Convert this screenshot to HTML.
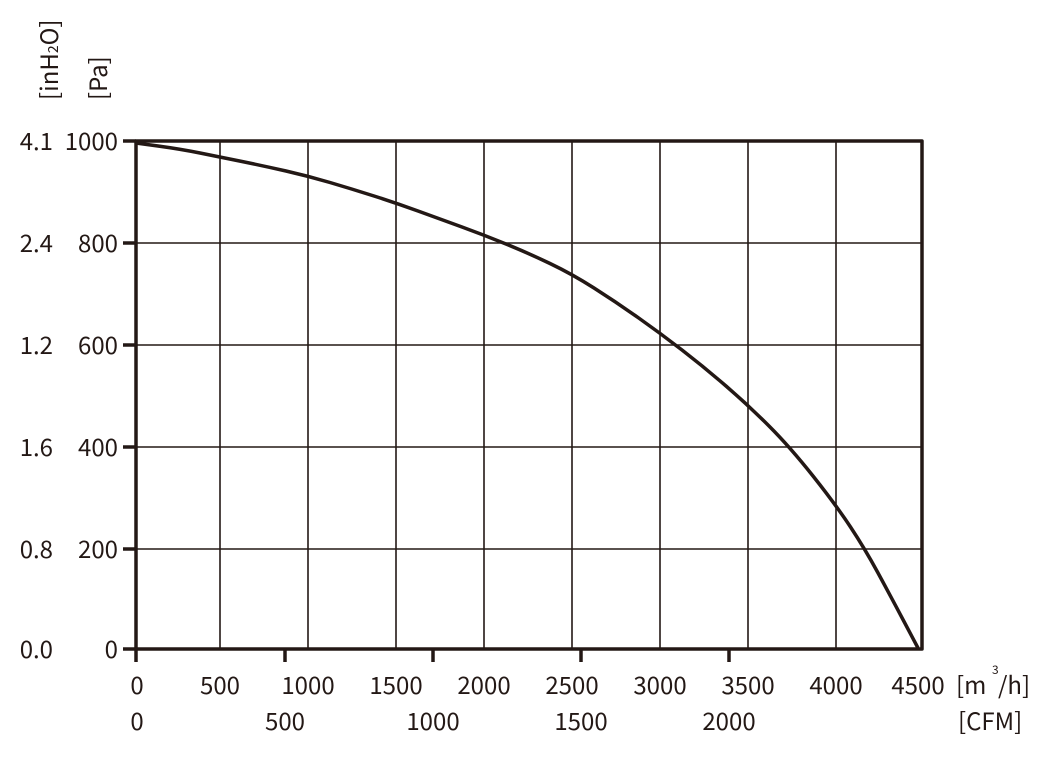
<!DOCTYPE html>
<html><head><meta charset="utf-8"><style>
html,body{margin:0;padding:0;background:#fff;}
svg{display:block;font-family:"Noto Sans CJK SC","Liberation Sans",sans-serif;}
text{fill:#231815;font-size:24px;}
</style></head><body>
<svg width="1050" height="758" viewBox="0 0 1050 758">
<g stroke="#231815" stroke-width="1.6">
<line x1="220" y1="141" x2="220" y2="649"/><line x1="308" y1="141" x2="308" y2="649"/>
<line x1="396" y1="141" x2="396" y2="649"/><line x1="484" y1="141" x2="484" y2="649"/>
<line x1="572" y1="141" x2="572" y2="649"/><line x1="660" y1="141" x2="660" y2="649"/>
<line x1="748" y1="141" x2="748" y2="649"/><line x1="836" y1="141" x2="836" y2="649"/>
<line x1="136" y1="243" x2="922" y2="243"/><line x1="136" y1="345" x2="922" y2="345"/>
<line x1="136" y1="447" x2="922" y2="447"/><line x1="136" y1="549" x2="922" y2="549"/>
</g>
<g stroke="#231815" stroke-width="3.5" fill="none" stroke-linejoin="round">
<rect x="136" y="141" width="786" height="508"/>
<line x1="123" y1="141" x2="136" y2="141"/><line x1="123" y1="243" x2="136" y2="243"/>
<line x1="123" y1="345" x2="136" y2="345"/><line x1="123" y1="447" x2="136" y2="447"/>
<line x1="123" y1="549" x2="136" y2="549"/><line x1="123" y1="649" x2="136" y2="649"/>
<line x1="136" y1="649" x2="136" y2="662"/><line x1="285" y1="649" x2="285" y2="662"/>
<line x1="433" y1="649" x2="433" y2="662"/><line x1="581" y1="649" x2="581" y2="662"/>
<line x1="729" y1="649" x2="729" y2="662"/>
<path d="M136,143 L158,146 Q180,149 200,153 Q220,157 242,161.5 Q264,166 286,171 Q308,176 330,182.5 Q352,189 374,196 Q396,203 418,211 Q440,219 462,227 Q484,235 506,244 Q528,253 550,263.5 Q572,274 594,288 Q616,302 638,317.5 Q660,333 682,350 Q704,367 726,386 Q748,405 769,426 Q790,447 813,476 Q836,505 850.5,527 Q865,549 877.5,572 Q890,595 904,621.5 L918,648"/>
</g>
<g text-anchor="end">
<text x="118" y="150">1000</text><text x="118" y="252">800</text><text x="118" y="354">600</text>
<text x="118" y="456">400</text><text x="118" y="558">200</text><text x="118" y="658">0</text>
<text x="53" y="150">4.1</text><text x="53" y="252">2.4</text><text x="53" y="354">1.2</text>
<text x="53" y="456">1.6</text><text x="53" y="558">0.8</text><text x="53" y="658">0.0</text>
</g>
<g text-anchor="middle">
<text x="137" y="694">0</text><text x="220" y="694">500</text><text x="308" y="694">1000</text>
<text x="396" y="694">1500</text><text x="484" y="694">2000</text><text x="572" y="694">2500</text>
<text x="660" y="694">3000</text><text x="748" y="694">3500</text><text x="836" y="694">4000</text>
<text x="918" y="694">4500</text>
<text x="137" y="730">0</text><text x="285" y="730">500</text><text x="433" y="730">1000</text>
<text x="581" y="730">1500</text><text x="729" y="730">2000</text>
</g>
<text x="956" y="694">[m</text><text x="992" y="674" style="font-size:12px">3</text><text x="998" y="694">/h]</text>
<text x="958" y="730">[CFM]</text>
<text transform="translate(58,100) rotate(-90)">[inH<tspan style="font-size:14px">2</tspan>O]</text>
<text transform="translate(107,100) rotate(-90)">[Pa]</text>
</svg>
</body></html>
